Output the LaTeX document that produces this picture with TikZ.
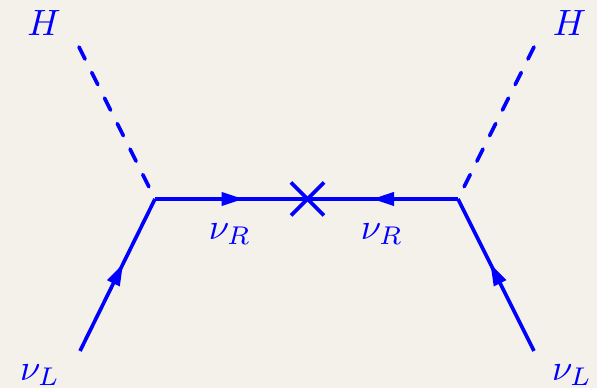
\documentclass[tikz,border=0pt]{standalone}
\usetikzlibrary{arrows.meta,decorations.markings,calc}
\definecolor{bg}{HTML}{F4F1EB}
\definecolor{fblue}{RGB}{0,0,255}
\tikzset{
  prop/.style={draw=fblue, line width=1pt},
  scalar/.style={draw=fblue, line width=1pt, line cap=round, dash pattern=on 3.7pt off 4.1pt},
  midarrow/.style={postaction={decorate, decoration={markings,
      mark=at position #1 with {\arrow{Triangle[length=6pt,width=3.6pt]}}}}},
  lbl/.style={text=fblue, inner sep=0pt}
}
\begin{document}
\begin{tikzpicture}[x=0.2733pt, y=-0.2733pt]
  \fill[bg] (0,0) rectangle (597,388);
  \useasboundingbox (0,0) rectangle (597,388);
  % vertices
  \coordinate (vl) at (155,199);
  \coordinate (vr) at (458,199);
  \coordinate (x) at (307.5,199);
  \coordinate (hl) at (79,47);
  \coordinate (hr) at (534,47);
  \coordinate (ll) at (80,351);
  \coordinate (lr) at (534,351);
  % fermion lines
  \draw[prop, midarrow=0.58] (vl) -- (x);
  \draw[prop, midarrow=0.57] (vr) -- (x);
  \draw[prop, midarrow=0.575] (ll) -- (vl);
  \draw[prop, midarrow=0.575] (lr) -- (vr);
  % scalar lines
  \draw[scalar] (hl) -- (vl);
  \draw[scalar] (hr) -- (vr);
  % mass insertion
  \draw[prop] ($(x)+(-16.5,-16.5)$) -- ($(x)+(16.5,16.5)$);
  \draw[prop] ($(x)+(-16.5,16.5)$) -- ($(x)+(16.5,-16.5)$);
  % labels
  \node[lbl] (Hl) at (44,23.5) {$H$};
  \node[lbl] (Hr) at (569.5,23.5) {$H$};
  \node[lbl] (nRl) at (230,234) {$\nu_R$};
  \node[lbl] (nRr) at (382,234) {$\nu_R$};
  \node[lbl] (nLl) at (40,375) {$\nu_L$};
  \node[lbl] (nLr) at (572,375) {$\nu_L$};
\end{tikzpicture}
\end{document}
